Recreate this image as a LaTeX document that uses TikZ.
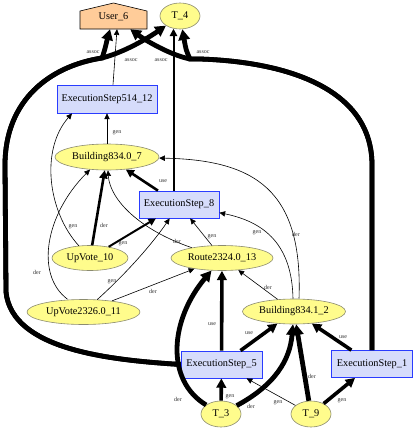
\documentclass[tikz,border=0pt]{standalone}
\usepackage{fontspec}
\setmainfont{Liberation Serif}
\usetikzlibrary{shapes.geometric,arrows.meta}
\definecolor{entfill}{HTML}{FFFC8C}
\definecolor{entline}{HTML}{8C8C70}
\definecolor{actfill}{HTML}{D6DCFB}
\definecolor{actline}{HTML}{2A3CFF}
\definecolor{agfill}{HTML}{FFCC99}
\begin{document}
\begin{tikzpicture}[x=1pt,y=-1pt,
  nodefont/.style={font=\fontsize{10.3}{12}\selectfont},
  ent/.style={ellipse,draw=entline,line width=0.6pt,fill=entfill,inner sep=0pt,minimum height=26pt,nodefont},
  act/.style={rectangle,draw=actline,line width=0.8pt,fill=actfill,inner sep=0pt,minimum height=27pt,nodefont},
  edgebase/.style={draw=black,-{Triangle[length=5pt 1.2,width=4.5pt 1.4]}},
  w1/.style={edgebase,line width=0.6pt},
  w2/.style={edgebase,line width=2pt},
  w3/.style={edgebase,line width=2.6pt},
  w4/.style={edgebase,line width=3.6pt},
  w5/.style={edgebase,line width=4.8pt},
  lbl/.style={font=\fontsize{6}{7}\selectfont,inner sep=0pt,text=black!80}
]
\fill[white] (0,0) rectangle (415,434);
\useasboundingbox (0,0) rectangle (415,434);

% agent (house)
\draw[fill=agfill,line width=0.6pt] (80,29) -- (147,29) -- (147,11) -- (113.5,3) -- (80,11) -- cycle;
\node[inner sep=0pt,minimum width=67pt,minimum height=24pt,nodefont] (User6) at (113.5,17) {User\_6};

% entities
\node[ent,minimum width=40pt]  (T4)     at (180,16)    {T\_4};
\node[ent,minimum width=104pt] (B07)    at (107,157)   {Building834.0\_7};
\node[ent,minimum width=76pt,minimum height=25pt]  (UV10)   at (90,258)    {UpVote\_10};
\node[ent,minimum width=102pt,minimum height=25pt] (Route)  at (222,258)   {Route2324.0\_13};
\node[ent,minimum width=113pt,minimum height=25pt] (UV2326) at (83.5,312)  {UpVote2326.0\_11};
\node[ent,minimum width=103pt,minimum height=25pt] (B12)    at (294,311.5) {Building834.1\_2};
\node[ent,minimum width=40pt]  (T3)     at (221,414)   {T\_3};
\node[ent,minimum width=40pt]  (T9)     at (311,414)   {T\_9};

% activities
\node[act,minimum width=100pt,minimum height=28pt] (ES514) at (107,99)    {ExecutionStep514\_12};
\node[act,minimum width=80pt]  (ES8)   at (179,204.5) {ExecutionStep\_8};
\node[act,minimum width=81pt]  (ES5)   at (221.5,364.5) {ExecutionStep\_5};
\node[act,minimum width=81pt]  (ES1)   at (372,364)   {ExecutionStep\_1};

% assoc edges
\draw[w5] (ES5.west) .. controls (110,360) and (12,350) .. (6,292) -- (5,165)
  .. controls (5,100) and (50,66) .. (102,58) .. controls (105,50) and (107,40) .. (User6)
  node[lbl] (la1) at (93,52) {assoc};
\draw[w5] (ES5.west) .. controls (110,360) and (12,350) .. (6,292) -- (5,165)
  .. controls (5,100) and (50,66) .. (102,58) .. controls (125,52) and (148,38) .. (T4);
\draw[w5] (ES1.north) -- (372,165) .. controls (372,90) and (290,62) .. (200,59) -- (190,59)
  .. controls (170,55) and (145,40) .. (User6);
\draw[w5] (ES1.north) -- (372,165) .. controls (372,90) and (290,62) .. (200,59) -- (190,59)
  .. controls (186,50) .. (T4)
  node[lbl] (la4) at (203,52) {assoc};
\draw[w1] ([xshift=6pt]ES514.north) -- ([xshift=3.5pt]User6.south)
  node[lbl] (la2) at (131,60) {assoc};
\draw[w2] ([xshift=-5.5pt]ES8.north) -- ([xshift=-6.5pt,yshift=0.6pt]T4.south)
  node[lbl] (la3) at (161,60) {assoc};

% upper part
\draw[w1] (B07) -- (ES514) node[lbl] (l1) at (117,133) {gen};
\draw[w1] (UV10) .. controls (48,212) and (40,150) .. ([xshift=-35pt]ES514.south)
  node[lbl] (l2) at (73,227) {gen};
\draw[w1] ([xshift=-16pt]UV2326.north) .. controls (35,275) and (45,215) .. ([xshift=-17pt,yshift=0.7pt]B07.south)
  node[lbl] (l3) at (37,272) {der};
\draw[w3] (UV10) -- (B07) node[lbl] (l4) at (104,225) {der};
\draw[w2] (UV10) -- (ES8) node[lbl] (l5) at (123,244) {gen};
\draw[w3] (ES8) -- (B07) node[lbl] (l6) at (163,181) {use};
\draw[w1] (Route) .. controls (140,230) and (110,200) .. (B07) node[lbl] (l7) at (177,241) {der};
\draw[w1] (Route) -- (ES8) node[lbl] (l8) at (212,237) {gen};
\draw[w1] (UV2326) .. controls (130,270) and (155,240) .. (ES8) node[lbl] (l9) at (112,282) {gen};
\draw[w1] (UV2326) -- (Route) node[lbl] (l10) at (153,291) {der};
\draw[w1] ([xshift=-1pt]B12.north) .. controls (292,245) and (265,222) .. (ES8) node[lbl] (l11) at (257,233) {gen};
\draw[w1] ([xshift=5pt]B12.north) .. controls (303,190) and (255,160) .. (B07) node[lbl] (l12) at (296,234) {der};
\draw[w1] (B12) -- (Route) node[lbl] (l13) at (268,287) {der};

% lower part
\draw[w4] (ES5) -- (Route) node[lbl] (l14) at (212,324) {use};
\draw[w5] (T3) .. controls (165,380) and (170,320) .. (Route) node[lbl] (l15) at (178,399) {der};
\draw[w4] (T3) -- (ES5) node[lbl] (l16) at (230,397) {gen};
\draw[w5] (T3) .. controls (275,385) and (290,360) .. (B12) node[lbl] (l17) at (251,406) {der};
\draw[w4] (ES5) -- (B12) node[lbl] (l18) at (249,333) {use};
\draw[w1] (T9) -- (ES5) node[lbl] (l19) at (278,403) {gen};
\draw[w5] (T9) -- (B12) node[lbl] (l20) at (312,376) {der};
\draw[w4] (T9) -- (ES1) node[lbl] (l21) at (342,401) {gen};
\draw[w4] (ES1) -- (B12) node[lbl] (l22) at (343,337) {use};
\end{tikzpicture}
\end{document}
